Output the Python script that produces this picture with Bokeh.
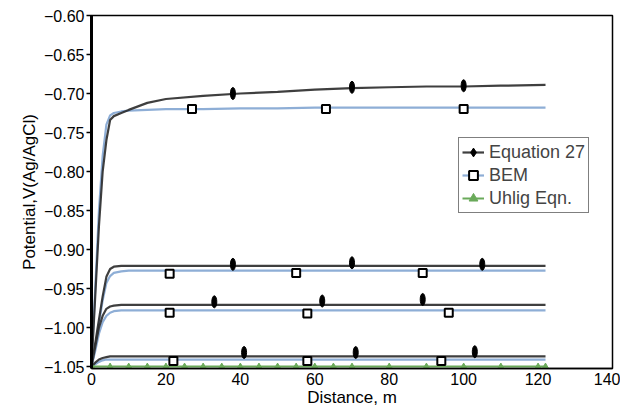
from bokeh.plotting import figure
from bokeh.models import Legend, LegendItem, FixedTicker, Range1d
from bokeh.embed import file_html
from bokeh.resources import INLINE

# ---- data ----
x_dist = [0, 1, 2, 3, 4, 5, 6, 8, 10, 15, 20, 30, 40, 50, 60, 70, 80, 90, 100, 110, 122]

eq27_g1 = [-1.05, -0.96, -0.87, -0.80, -0.76, -0.734, -0.729, -0.725, -0.721, -0.712, -0.707,
           -0.703, -0.700, -0.698, -0.695, -0.693, -0.692, -0.691, -0.691, -0.690, -0.689]
bem_g1 = [-1.05, -0.95, -0.85, -0.78, -0.74, -0.728, -0.725, -0.723, -0.722, -0.721, -0.720,
          -0.720, -0.719, -0.719, -0.718, -0.718, -0.718, -0.718, -0.718, -0.718, -0.718]
eq27_g2 = [-1.05, -1.02, -0.99, -0.96, -0.935, -0.925, -0.922, -0.921, -0.921, -0.921, -0.921,
           -0.921, -0.921, -0.921, -0.921, -0.921, -0.921, -0.921, -0.921, -0.921, -0.921]
bem_g2 = [-1.05, -1.025, -0.995, -0.965, -0.943, -0.934, -0.930, -0.928, -0.927, -0.927, -0.927,
          -0.927, -0.927, -0.927, -0.927, -0.927, -0.927, -0.927, -0.927, -0.927, -0.927]
eq27_g3 = [-1.05, -1.025, -1.0, -0.985, -0.976, -0.973, -0.972, -0.971, -0.971, -0.971, -0.971,
           -0.971, -0.971, -0.971, -0.971, -0.971, -0.971, -0.971, -0.971, -0.971, -0.971]
bem_g3 = [-1.05, -1.03, -1.008, -0.993, -0.985, -0.981, -0.979, -0.978, -0.978, -0.978, -0.978,
          -0.978, -0.978, -0.978, -0.978, -0.978, -0.978, -0.978, -0.978, -0.978, -0.978]
eq27_g4 = [-1.05, -1.045, -1.041, -1.039, -1.038, -1.037, -1.037, -1.037, -1.037, -1.037, -1.037,
           -1.037, -1.037, -1.037, -1.037, -1.037, -1.037, -1.037, -1.037, -1.037, -1.037]
bem_g4 = [-1.05, -1.047, -1.044, -1.042, -1.041, -1.041, -1.041, -1.041, -1.041, -1.041, -1.041,
          -1.041, -1.041, -1.041, -1.041, -1.041, -1.041, -1.041, -1.041, -1.041, -1.041]

eq27_mx = [38, 70, 100, 38, 70, 105, 33, 62, 89, 41, 71, 103]
eq27_my = [-0.700, -0.692, -0.690, -0.919, -0.917, -0.919, -0.967, -0.966, -0.964, -1.032, -1.032, -1.031]
bem_mx = [27, 63, 100, 21, 55, 89, 21, 58, 96, 22, 58, 94]
bem_my = [-0.720, -0.720, -0.720, -0.931, -0.930, -0.930, -0.981, -0.982, -0.981, -1.043, -1.043, -1.043]

uhlig_x = [0, 5, 10, 15, 20, 25, 30, 35, 40, 45, 50, 55, 60, 65, 70, 80, 90, 100, 110, 120, 122]
uhlig_y = [-1.05] * len(uhlig_x)

y_ticks = [-0.60, -0.65, -0.70, -0.75, -0.80, -0.85, -0.90, -0.95, -1.00, -1.05]
x_ticks = [0, 20, 40, 60, 80, 100, 120, 140]

# ---- figure ----
FONT = "Liberation Sans"
p = figure(width=620, height=411, output_backend="svg", toolbar_location=None,
           x_range=Range1d(0, 140), y_range=Range1d(-1.0525, -0.60),
           min_border_left=91, min_border_right=8, min_border_top=15, min_border_bottom=43)
p.grid.visible = False
p.outline_line_color = "black"
p.outline_line_width = 1.5
p.background_fill_color = "white"

eq_color = "#2a2a2a"
bem_color = "#8eaed6"
uh_color = "#6aaa5a"

eq_lines = []
bem_lines = []
for ye, yb in [(eq27_g1, bem_g1), (eq27_g2, bem_g2), (eq27_g3, bem_g3), (eq27_g4, bem_g4)]:
    bem_lines.append(p.line(x_dist, yb, line_color=bem_color, line_width=2.2))
    eq_lines.append(p.line(x_dist, ye, line_color=eq_color, line_width=2.2, line_alpha=0.9))

uh_line = p.line(uhlig_x, uhlig_y, line_color=uh_color, line_width=2)
uh_mark = p.scatter(uhlig_x, uhlig_y, marker="triangle", size=6, fill_color=uh_color,
                    line_color=uh_color)

eq_mark = p.ellipse(eq27_mx, eq27_my, width=5, height=12, width_units="screen",
                    height_units="screen", fill_color="black", line_color="black")
bem_mark = p.scatter(bem_mx, bem_my, marker="square", size=8, fill_color="white",
                     line_color="black", line_width=2)

# legend-only marker glyphs (one point outside the visible range)
eq_leg = p.scatter([-50], [-2], marker="diamond", size=11, fill_color="black", line_color="black")
bem_leg = p.scatter([-50], [-2], marker="square", size=6, fill_color="white", line_color="black",
                    line_width=2)
uh_leg = p.scatter([-50], [-2], marker="triangle", size=5, fill_color=uh_color, line_color=uh_color)

# axes
p.yaxis.ticker = FixedTicker(ticks=y_ticks)
p.yaxis.major_label_overrides = {t: ("%.2f" % t).replace("-", "\u2212") for t in y_ticks}
p.xaxis.ticker = FixedTicker(ticks=x_ticks)
for ax in (p.xaxis, p.yaxis):
    ax.major_label_text_font = FONT
    ax.major_label_text_font_size = "16px"
    ax.major_label_text_color = "black"
    ax.axis_label_text_font = FONT
    ax.axis_label_text_font_size = "17px"
    ax.axis_label_text_font_style = "normal"
    ax.axis_label_text_color = "black"
    ax.minor_tick_line_color = None
    ax.axis_line_color = "black"
p.yaxis.axis_line_width = 3
p.yaxis.major_tick_in = 0
p.yaxis.major_tick_out = 5
p.yaxis.major_tick_line_width = 1.5
p.yaxis.major_label_standoff = 2
p.yaxis.axis_label = "Potential,V(Ag/AgCl)"
p.yaxis.axis_label_standoff = 2
p.xaxis.axis_line_width = 1.5
p.xaxis.major_tick_in = 0
p.xaxis.major_tick_out = 0
p.xaxis.major_label_standoff = 4
p.xaxis.axis_label = "Distance, m"
p.xaxis.axis_label_standoff = 0

legend = Legend(items=[
    LegendItem(label="Equation 27", renderers=[eq_lines[0], eq_leg]),
    LegendItem(label="BEM", renderers=[bem_lines[0], bem_leg]),
    LegendItem(label="Uhlig Eqn.", renderers=[uh_line, uh_leg]),
], location=(367, 155))
legend.label_text_font = FONT
legend.label_text_font_size = "18px"
legend.label_height = 22
legend.glyph_height = 22
legend.glyph_width = 22
legend.label_standoff = 5
legend.padding = 3
legend.spacing = 1
legend.margin = 0
legend.border_line_color = "black"
legend.border_line_width = 1.2
legend.background_fill_alpha = 1
p.add_layout(legend, "center")

open("out.html", "w").write(file_html(p, INLINE))
